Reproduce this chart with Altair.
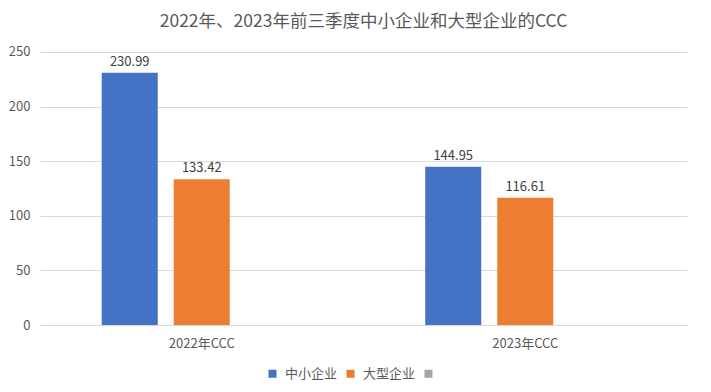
import altair as alt
import pandas as pd

categories = ["2022年CCC", "2023年CCC"]
series = ["中小企业", "大型企业", " "]
sme_values = [230.99, 144.95]
large_values = [133.42, 116.61]
colors = ["#4472C4", "#ED7D31", "#A5A5A5"]

rows = []
for i, c in enumerate(categories):
    rows.append({"cat": c, "series": series[0], "value": sme_values[i]})
    rows.append({"cat": c, "series": series[1], "value": large_values[i]})
df = pd.DataFrame(rows)

FONT = "Noto Sans CJK SC"

base = alt.Chart(df).encode(
    x=alt.X("cat:N", sort=categories, title=None,
            scale=alt.Scale(paddingInner=0, paddingOuter=0),
            axis=alt.Axis(labelAngle=0, labelFontSize=13, labelColor="#595959",
                          labelFont=FONT, domainColor="#D9D9D9", ticks=False,
                          labelPadding=12, grid=False)),
    xOffset=alt.XOffset("series:N", scale=alt.Scale(domain=series, paddingInner=0.222, paddingOuter=0.857)),
)

bars = base.mark_bar().encode(
    y=alt.Y("value:Q", title=None,
            scale=alt.Scale(domain=[0, 250]),
            axis=alt.Axis(values=[0, 50, 100, 150, 200, 250], domain=False, ticks=False,
                          labelFontSize=13, labelColor="#595959", labelFont=FONT,
                          gridColor="#D9D9D9", labelPadding=10)),
    color=alt.Color("series:N", scale=alt.Scale(domain=series, range=colors),
                    legend=alt.Legend(orient="none", legendX=226, legendY=326,
                                      title=None, direction="horizontal",
                                      symbolType="square", symbolSize=64, labelFontSize=13,
                                      labelColor="#595959", labelFont=FONT,
                                      columnPadding=6, labelOffset=6, symbolStrokeWidth=0)),
)

labels = base.mark_text(dy=-11, fontSize=13, color="#404040", font=FONT).encode(
    y=alt.Y("value:Q"),
    text=alt.Text("value:Q", format=".2f"),
)

chart = (bars + labels).properties(
    width=647, height=284,
    title=alt.TitleParams("2022年、2023年前三季度中小企业和大型企业的CCC", fontSize=17.5,
                          color="#595959", font=FONT, fontWeight="normal", offset=11),
    autosize=alt.AutoSizeParams(type="none"),
    padding={"left": 32, "top": 33, "right": 16, "bottom": 59},
).configure_view(stroke=None)

chart.save("out.html", embed_options={"renderer": "svg", "actions": False})
